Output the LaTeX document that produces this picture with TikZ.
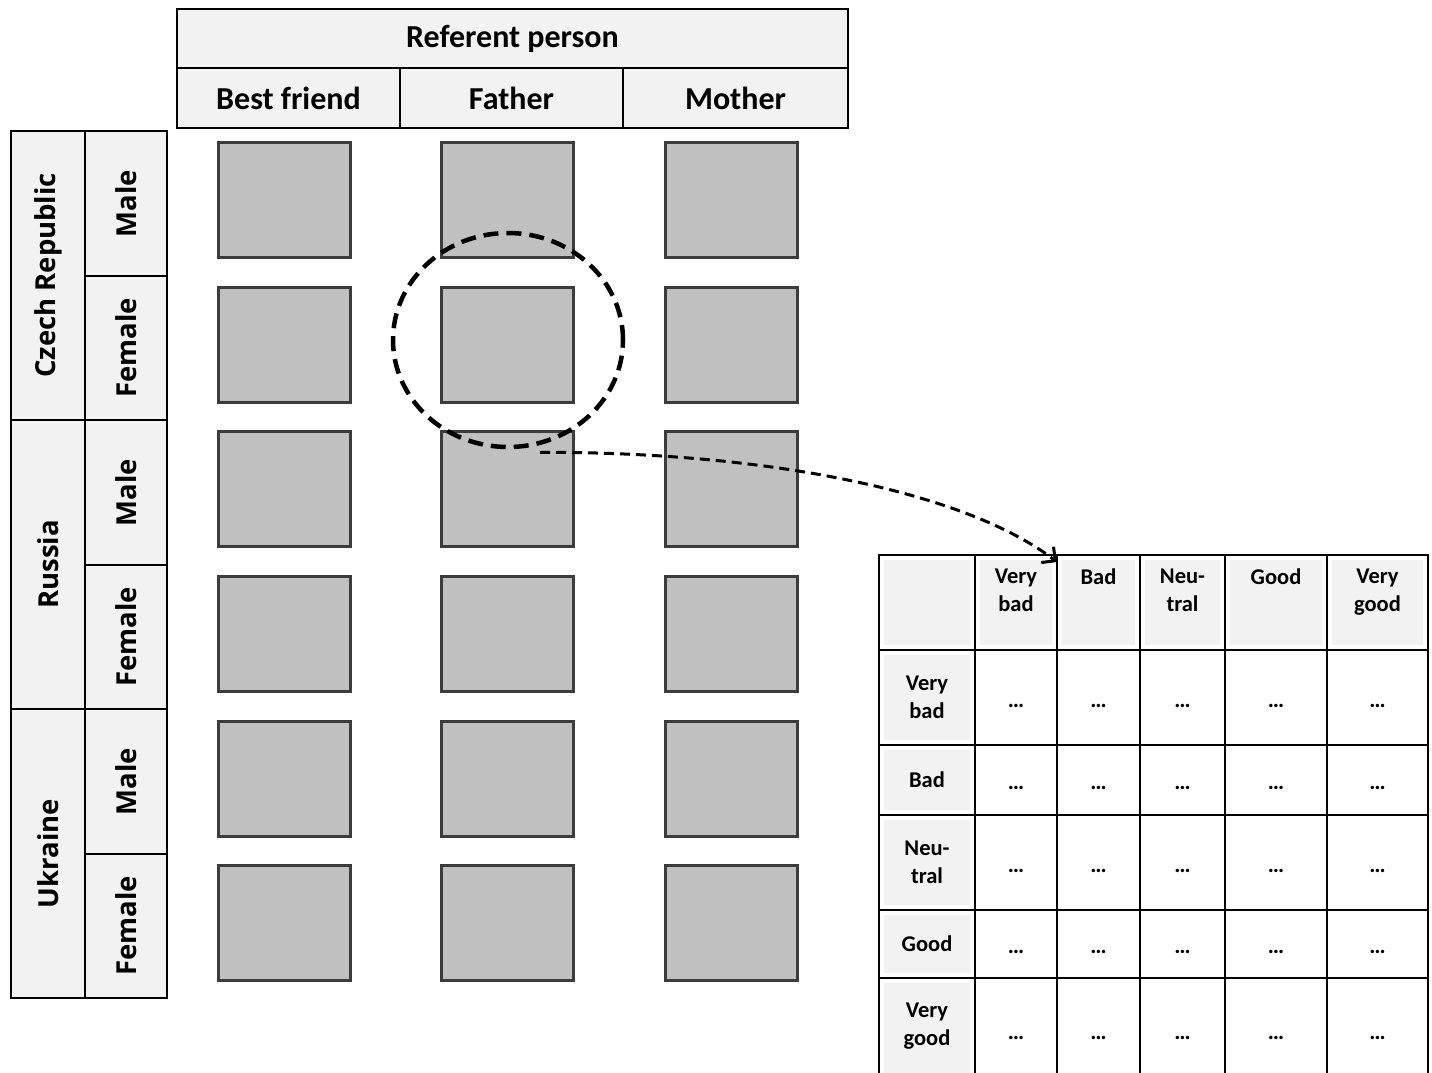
\documentclass[tikz,border=0pt]{standalone}
\usepackage{fontspec}
\setmainfont{Carlito}
\newfontfamily\labfont{Open Sans}
\usetikzlibrary{arrows.meta,shapes.geometric,calc}
\definecolor{hdrgray}{HTML}{F2F2F2}
\definecolor{sqfill}{HTML}{C0C0C0}
\definecolor{sqedge}{HTML}{3C3C3C}
\begin{document}
\begin{tikzpicture}[x=1pt,y=-1pt,
  box/.style={draw=black, line width=1.6pt, fill=hdrgray, inner sep=0pt, outer sep=0pt,
    font=\fontsize{32}{36}\selectfont\bfseries},
  side/.style={box, rotate=90, font=\labfont\bfseries\fontsize{27.5}{32}\selectfont},
  sq/.style={draw=sqedge, fill=sqfill, line width=3pt, minimum width=132pt, minimum height=115pt, inner sep=0pt},
  tcell/.style={draw=black, line width=2.4pt, inner sep=0pt, outer sep=0pt, align=center,
    font=\fontsize{23}{28}\selectfont\bfseries},
  tgraycell/.style={tcell, path picture={\fill[hdrgray] ([xshift=5pt,yshift=-5pt]path picture bounding box.north west) rectangle ([xshift=-5pt,yshift=5pt]path picture bounding box.south east);}},
  ttext/.style={align=center, inner sep=0pt, font=\fontsize{22.5}{28}\selectfont\bfseries},
  magring/.style={ellipse, draw=black, line width=4.5pt, dash pattern=on 15pt off 8pt, minimum width=230pt, minimum height=214pt, inner sep=0pt},
  link/.style={draw=black, line width=3pt, dash pattern=on 10pt off 6pt, -{Straight Barb[length=10pt,width=20pt,line width=3pt]}}
]
\useasboundingbox (0,0) rectangle (1432,1072);

% top header
\node[box, minimum width=671pt, minimum height=59pt] (ref) at (512.5,38.5) {Referent person};
\node[box, minimum width=223pt, minimum height=60pt] (bf) at (288.5,98) {Best friend};
\node[box, minimum width=223pt, minimum height=60pt] (fa) at (511.5,98) {Father};
\node[box, minimum width=225pt, minimum height=60pt] (mo) at (735.5,98) {Mother};

% left side
\node[side, minimum width=289pt, minimum height=74pt] (cz) at (48,275.5) {Czech Republic};
\node[side, minimum width=289pt, minimum height=74pt] (ru) at (48,564.5) {Russia};
\node[side, minimum width=289pt, minimum height=74pt] (uk) at (48,853.5) {Ukraine};
\foreach \n/\y/\t in {m1/203.5/Male, f1/348/Female, m2/492.5/Male, f2/637/Female, m3/781.5/Male, f3/926/Female}{
  \node[side, minimum width=144.5pt, minimum height=82pt] (\n) at (126,\y) {\t};
}

% grey squares
\foreach \c/\x in {1/284.5, 2/507.5, 3/731.5}{
  \foreach \r/\y in {1/199.5, 2/344.5, 3/488.5, 4/633.5, 5/778.5, 6/922.5}{
    \node[sq] (s-\r-\c) at (\x,\y) {};
  }
}

% magnifier ring
\node[magring] (mag) at (508,340) {};

% right table
\foreach \r/\yt/\yb in {0/555/650, 1/650/745, 2/745/815, 3/815/910, 4/910/978, 5/978/1082}{
  \foreach \c/\xl/\xr in {0/879/975, 1/975/1057, 2/1057/1140, 3/1140/1225, 4/1225/1327, 5/1327/1428}{
    \pgfmathsetmacro\cxx{(\xl+\xr)/2}
    \pgfmathsetmacro\cyy{(\yt+\yb)/2}
    \pgfmathsetmacro\ww{\xr-\xl}
    \pgfmathsetmacro\hh{\yb-\yt}
    \ifnum\r=0
      \node[tgraycell, minimum width=\ww pt, minimum height=\hh pt] (t-\r-\c) at (\cxx,\cyy) {};
    \else
      \ifnum\c=0
        \node[tgraycell, minimum width=\ww pt, minimum height=\hh pt] (t-\r-\c) at (\cxx,\cyy) {};
      \else
        \node[tcell, minimum width=\ww pt, minimum height=\hh pt] (t-\r-\c) at (\cxx,\cyy) {\rule{0pt}{20pt}…};
      \fi
    \fi
  }
}
% header texts
\foreach \c/\t in {1/{Very\\bad}, 2/Bad, 3/{Neu-\\tral}, 4/Good, 5/{Very\\good}}{
  \node[ttext, anchor=north] (h-\c) at ([yshift=-14pt]t-0-\c.north) {\t};
}
% row label texts
\foreach \r/\t in {1/{Very\\bad}, 2/Bad, 3/{Neu-\\tral}, 4/Good}{
  \node[ttext] (l-\r) at (t-\r-0.center) {\t};
}
\node[ttext] (l-5) at (879+48,1026) {Very\\good};

% connector
\coordinate (start) at ([xshift=32pt,yshift=-3pt]mag.south);
\coordinate (tip) at ([yshift=-7pt]t-0-1.north east);
\draw[link] (start) .. controls (780,452) and (970,495) .. (tip);
\end{tikzpicture}
\end{document}
